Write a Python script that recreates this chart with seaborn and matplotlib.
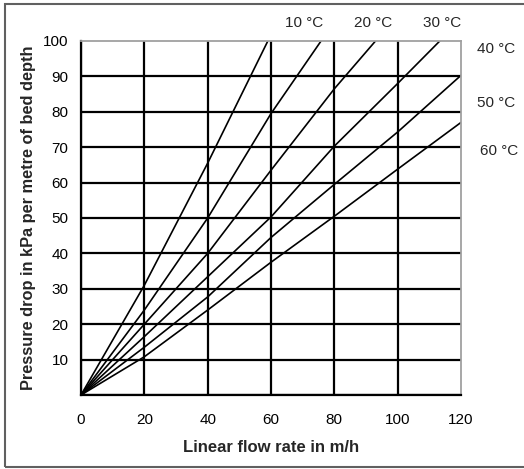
import numpy as np
import pandas as pd
import matplotlib
matplotlib.use("Agg")
import matplotlib.pyplot as plt
from matplotlib.patches import Rectangle
import seaborn as sns

# pressure drop curves, one per temperature
temps = ["10 °C", "20 °C", "30 °C", "40 °C", "50 °C", "60 °C"]
flow_10 = [0, 20, 40, 59]
drop_10 = [0, 31, 65.5, 100]
flow_20 = [0, 20, 40, 60, 75.8]
drop_20 = [0, 24, 50, 79.5, 100]
flow_30 = [0, 20, 40, 60, 80, 93]
drop_30 = [0, 20, 40, 63.5, 86.5, 100]
flow_40 = [0, 20, 40, 60, 80, 100, 113.3]
drop_40 = [0, 16.5, 33.4, 50.3, 70.3, 88, 100]
flow_50 = [0, 20, 40, 60, 80, 100, 120]
drop_50 = [0, 13.5, 27.7, 44.5, 59.5, 74.3, 90.3]
flow_60 = [0, 20, 40, 60, 80, 100, 120]
drop_60 = [0, 10.8, 24, 37.5, 50.5, 63.8, 77]

# label positions (data coords)
label_x = [70.5, 92.3, 114, 131, 131, 132]
label_y = [105, 105, 105, 97.6, 82.5, 69]

x_ticks = [0, 20, 40, 60, 80, 100, 120]
y_ticks = [0, 10, 20, 30, 40, 50, 60, 70, 80, 90, 100]


def main():
    flows = [flow_10, flow_20, flow_30, flow_40, flow_50, flow_60]
    drops = [drop_10, drop_20, drop_30, drop_40, drop_50, drop_60]
    frames = []
    for t, fx, dy in zip(temps, flows, drops):
        frames.append(pd.DataFrame({"flow": fx, "drop": dy, "temp": t}))
    df = pd.concat(frames, ignore_index=True)

    sns.set_style("white")
    plt.rcParams["font.family"] = ["Liberation Sans", "DejaVu Sans"]

    fig = plt.figure(figsize=(5.24, 4.69), dpi=100)
    ax = fig.add_axes([0.1546, 0.1578, 0.7252, 0.7548])

    sns.lineplot(data=df, x="flow", y="drop", hue="temp", palette=["black"] * 6,
                 legend=False, lw=1.2, sort=False, estimator=None, ax=ax)

    ax.set_xlim(0, 120)
    ax.set_ylim(0, 100)
    ax.set_xticks(x_ticks)
    ax.set_yticks(y_ticks)
    ax.set_yticklabels([""] + [str(v) for v in y_ticks[1:]])
    ax.tick_params(direction="out", length=5, width=1.5, labelsize=11, pad=4,
                   color="black", labelcolor="black")
    ax.tick_params(axis="x", pad=8)

    ax.grid(True, color="black", lw=1.6)
    ax.xaxis.get_gridlines()[-1].set_visible(False)
    ax.yaxis.get_gridlines()[-1].set_visible(False)

    for side in ["left", "bottom"]:
        ax.spines[side].set_color("black")
        ax.spines[side].set_linewidth(1.6)
    for side in ["top", "right"]:
        ax.spines[side].set_color("#a0a0a0")
        ax.spines[side].set_linewidth(1.3)

    ax.set_xlabel("Linear flow rate in m/h", fontsize=12, fontweight="bold", labelpad=9)
    ax.set_ylabel("Pressure drop in kPa per metre of bed depth", fontsize=11.8,
                  fontweight="bold", labelpad=5)

    for t, lx, ly in zip(temps, label_x, label_y):
        ax.text(lx, ly, t, fontsize=11, ha="center", va="center", clip_on=False)

    fig.patches.append(Rectangle((0.009, 0.004), 1.1, 0.988, transform=fig.transFigure,
                                 fill=False, edgecolor="#606060", lw=1.5))

    fig.savefig("out.png", dpi=100)


if __name__ == "__main__":
    main()
